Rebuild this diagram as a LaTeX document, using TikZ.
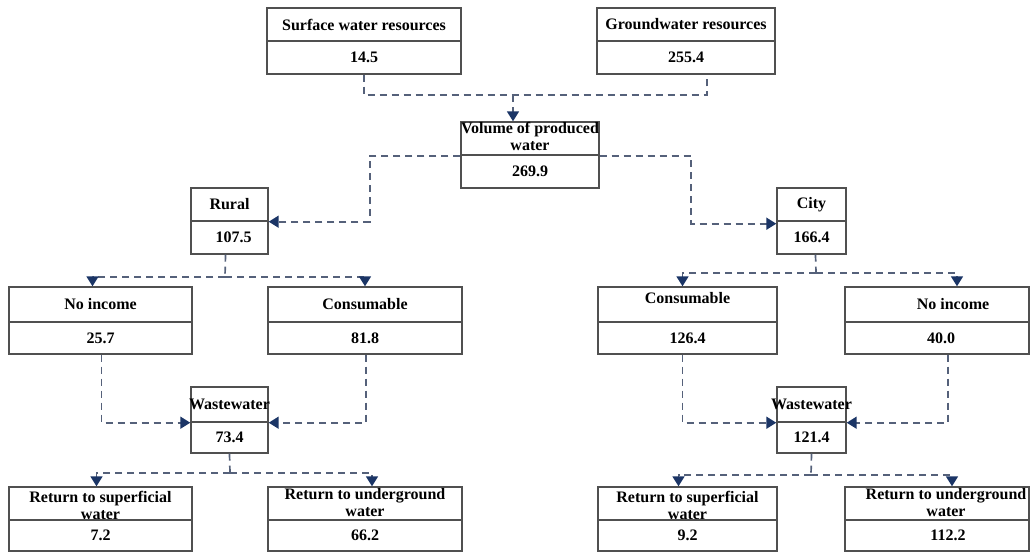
\documentclass[tikz,border=0pt]{standalone}
\usepackage{fontspec}
\setmainfont{Liberation Serif}
\usetikzlibrary{arrows.meta}
\definecolor{boxcol}{HTML}{505050}
\definecolor{linecol}{HTML}{55617A}
\definecolor{tipcol}{HTML}{1B3566}
\begin{document}
\begin{tikzpicture}[x=1pt,y=-1pt,
  cell/.style={draw=boxcol, line width=1.4pt, inner sep=0pt, fill=white},
  lab/.style={font=\fontsize{16}{17}\selectfont\bfseries, align=center, text=black},
  conn/.style={draw=linecol, line width=1.7pt, dash pattern=on 7pt off 5pt},
  arr/.style={conn, -{Triangle[width=12pt,length=10pt,color=tipcol,fill=tipcol,sep=0pt]}}
]
\useasboundingbox[fill=white] (0,0) rectangle (1030,554);

% --- source boxes
\node[cell, minimum width=194, minimum height=33, label={[lab]center:Surface water resources}] (swt) at (364,24.5) {};
\node[cell, minimum width=194, minimum height=33, label={[lab]center:14.5}] (swv) at (364,57.5) {};
\node[cell, minimum width=178, minimum height=33, label={[lab]center:Groundwater resources}] (gwt) at (686,24.5) {};
\node[cell, minimum width=178, minimum height=33, label={[lab]center:255.4}] (gwv) at (686,57.5) {};

% --- produced water
\node[cell, minimum width=138, minimum height=33, label={[lab,yshift=2pt]center:Volume of produced\\water}] (volt) at (530,138.5) {};
\node[cell, minimum width=138, minimum height=33, label={[lab]center:269.9}] (volv) at (530,171.5) {};

% --- rural / city
\node[cell, minimum width=77, minimum height=33, label={[lab]center:Rural}] (rurt) at (229.5,204.5) {};
\node[cell, minimum width=77, minimum height=33, label={[lab,xshift=4pt]center:107.5}] (rurv) at (229.5,237.5) {};
\node[cell, minimum width=69, minimum height=33, label={[lab]center:City}] (cityt) at (811.5,204.5) {};
\node[cell, minimum width=69, minimum height=33, label={[lab]center:166.4}] (cityv) at (811.5,237.5) {};

% --- uses, left
\node[cell, minimum width=183, minimum height=35, label={[lab]center:No income}] (noLt) at (100.5,304.5) {};
\node[cell, minimum width=183, minimum height=32, label={[lab]center:25.7}] (noLv) at (100.5,338) {};
\node[cell, minimum width=194, minimum height=35, label={[lab]center:Consumable}] (conLt) at (365,304.5) {};
\node[cell, minimum width=194, minimum height=32, label={[lab]center:81.8}] (conLv) at (365,338) {};
% --- uses, right
\node[cell, minimum width=179, minimum height=35, label={[lab,yshift=6pt]center:Consumable}] (conRt) at (687.5,304.5) {};
\node[cell, minimum width=179, minimum height=32, label={[lab]center:126.4}] (conRv) at (687.5,338) {};
\node[cell, minimum width=184, minimum height=35, label={[lab,xshift=16pt]center:No income}] (noRt) at (937,304.5) {};
\node[cell, minimum width=184, minimum height=32, label={[lab,xshift=4pt]center:40.0}] (noRv) at (937,338) {};

% --- wastewater
\node[cell, minimum width=77, minimum height=35, label={[lab]center:Wastewater}] (wwLt) at (229.5,404.5) {};
\node[cell, minimum width=77, minimum height=31, label={[lab]center:73.4}] (wwLv) at (229.5,437.5) {};
\node[cell, minimum width=69, minimum height=35, label={[lab]center:Wastewater}] (wwRt) at (811.5,404.5) {};
\node[cell, minimum width=69, minimum height=31, label={[lab]center:121.4}] (wwRv) at (811.5,437.5) {};

% --- returns, left
\node[cell, minimum width=183, minimum height=33, label={[lab,yshift=-2pt]center:Return to superficial\\water}] (rsLt) at (100.5,503.5) {};
\node[cell, minimum width=183, minimum height=31, label={[lab]center:7.2}] (rsLv) at (100.5,535.5) {};
\node[cell, minimum width=194, minimum height=33, label={[lab,yshift=1pt]center:Return to underground\\water}] (ruLt) at (365,503.5) {};
\node[cell, minimum width=194, minimum height=31, label={[lab]center:66.2}] (ruLv) at (365,535.5) {};
% --- returns, right
\node[cell, minimum width=179, minimum height=33, label={[lab,yshift=-2pt]center:Return to superficial\\water}] (rsRt) at (687.5,503.5) {};
\node[cell, minimum width=179, minimum height=31, label={[lab]center:9.2}] (rsRv) at (687.5,535.5) {};
\node[cell, minimum width=184, minimum height=33, label={[lab,xshift=9pt,yshift=1pt]center:Return to underground\\water}] (ruRt) at (937,503.5) {};
\node[cell, minimum width=184, minimum height=31, label={[lab,xshift=11pt]center:112.2}] (ruRv) at (937,535.5) {};

% --- junction points
\coordinate (jtop) at (513,95);
\coordinate (jvl) at (370,190);
\coordinate (jvr) at (691,190);
\coordinate (jrur) at (225,277);
\coordinate (jcity) at (816,273);
\coordinate (jwwL) at (230,473);
\coordinate (jwwR) at (811,475);

% --- connectors
\draw[conn] (swv.south) |- (jtop) -| ([xshift=21pt]gwv.south);
\draw[arr] (jtop) -- (jtop |- volt.north);

\draw[arr] (volt.south west) -| (jvl) |- (rurt.south east);
\draw[arr] (volt.south east) -| (jvr) |- ([yshift=-2pt]cityt.south west);

\draw[conn] ([xshift=-4pt]rurv.south) -- (jrur);
\draw[arr] (jrur) -| ([xshift=-8pt]noLt.north);
\draw[arr] (jrur) -| (conLt.north);

\draw[conn] ([xshift=4pt]cityv.south) -- (jcity);
\draw[arr] (jcity) -| ([xshift=-5pt]conRt.north);
\draw[arr] (jcity) -| ([xshift=20pt]noRt.north);

\draw[arr] ([xshift=1pt]noLv.south) |- (wwLt.south west);
\draw[arr] ([xshift=1pt]conLv.south) |- (wwLt.south east);
\draw[arr] ([xshift=-5pt]conRv.south) |- (wwRt.south west);
\draw[arr] ([xshift=11pt]noRv.south) |- (wwRt.south east);

\draw[conn] (wwLv.south) -- (jwwL);
\draw[arr] (jwwL) -| ([xshift=-4pt]rsLt.north);
\draw[arr] (jwwL) -| ([xshift=7pt]ruLt.north);

\draw[conn] (wwRv.south) -- (jwwR);
\draw[arr] (jwwR) -| ([xshift=-9pt]rsRt.north);
\draw[arr] (jwwR) -| ([xshift=15pt]ruRt.north);
\end{tikzpicture}
\end{document}
